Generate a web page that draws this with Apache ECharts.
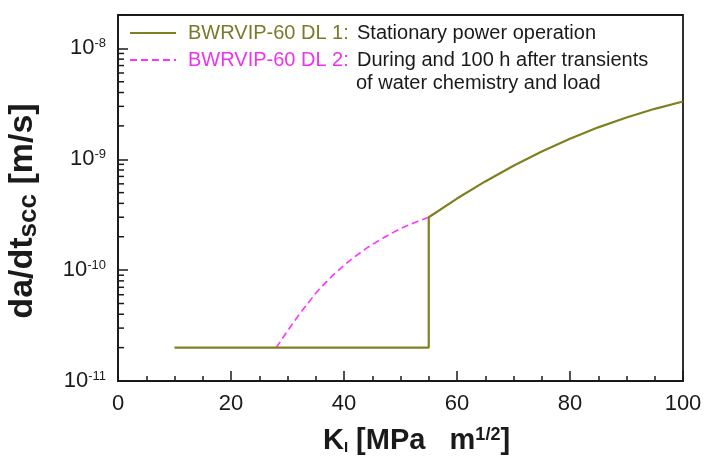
<!DOCTYPE html>
<html>
<head>
<meta charset="utf-8">
<script src="https://cdn.jsdelivr.net/npm/echarts@6.0.0/dist/echarts.min.js"></script>
<style>
  html, body { margin: 0; padding: 0; background: #fff; }
  #chart { width: 705px; height: 457px; }
</style>
</head>
<body>
<div id="chart"></div>
<script>
// 数据：近似值
const dl1Name = 'BWRVIP-60 DL 1';
const dl2Name = 'BWRVIP-60 DL 2';
const dl1Desc = 'Stationary power operation';
const dl2Desc = ['During and 100 h after transients', 'of water chemistry and load'];

// DL 1: 平台段 + 55 处跳变 + 上升曲线
const dl1K = [10, 55, 55, 60, 65, 70, 75, 80, 85, 90, 95, 100];
const dl1Rate = [2e-11, 2e-11, 3.0e-10, 4.42e-10, 6.31e-10, 8.75e-10, 1.175e-9, 1.53e-9, 1.94e-9, 2.38e-9, 2.85e-9, 3.32e-9];

// DL 2: 虚线
const dl2K = [28, 30, 32, 35, 38, 41, 44, 47, 50, 53, 55];
const dl2Rate = [2e-11, 2.83e-11, 3.94e-11, 6.2e-11, 8.97e-11, 1.22e-10, 1.58e-10, 1.96e-10, 2.37e-10, 2.75e-10, 3.0e-10];

// 坐标轴
const xMin = 0, xMax = 100, xStep = 20;
const yMin = 1e-11, yMax = 2e-8;
const yTickExps = [-11, -10, -9, -8];
const yMinorMantissas = [2, 3, 4, 5, 6, 7, 8, 9];

const FONT = '"Liberation Sans", Arial, sans-serif';
const OLIVE = '#808020';
const MAGENTA = '#ff33ff';
const INK = '#1a1a1a';

// 对数轴的次刻度（2..9 × 10^n）
const yMinorTicks = [];
yTickExps.slice(0, -1).forEach(e => {
  yMinorMantissas.forEach(m => yMinorTicks.push(m * Math.pow(10, e)));
});

const chart = echarts.init(document.getElementById('chart'), null, { renderer: 'canvas' });

const option = {
  animation: false,
  backgroundColor: '#fff',
  textStyle: { fontFamily: FONT },
  grid: {
    left: 118, right: 22, top: 15, bottom: 76,
    containLabel: false,
    outerBoundsMode: 'none',
    show: true, borderColor: INK, borderWidth: 1.8, backgroundColor: 'transparent'
  },
  legend: {
    data: [dl1Name, dl2Name],
    orient: 'vertical',
    left: 129, top: 22,
    padding: 0,
    itemWidth: 46, itemHeight: 14, itemGap: 5,
    selectedMode: false,
    itemStyle: { opacity: 0 },
    formatter: name => {
      if (name === dl1Name) return '{a|' + name + ':}{d|' + dl1Desc + '}';
      return '{m|' + name + ':}{d|' + dl2Desc[0] + '}';
    },
    textStyle: {
      fontFamily: FONT,
      fontSize: 20,
      lineHeight: 22,
      padding: [0, 0, 0, 7],
      rich: {
        a: { fontFamily: FONT, fontSize: 20, color: '#7a7a2a', width: 169 },
        m: { fontFamily: FONT, fontSize: 20, color: '#ee33ee', width: 169 },
        d: { fontFamily: FONT, fontSize: 20, color: INK }
      }
    }
  },
  graphic: [{
    type: 'text',
    x: 356, y: 83,
    style: {
      text: dl2Desc[1],
      font: '20px ' + FONT,
      fill: INK,
      verticalAlign: 'middle'
    }
  }],
  xAxis: {
    type: 'value',
    min: xMin, max: xMax, interval: xStep,
    name: '{b|K}{sub|I}{b| [MPa   m}{sup|1/2}{b|]}',
    nameLocation: 'middle',
    nameGap: 45,
    nameTextStyle: {
      padding: [0, 0, 0, 32],
      rich: {
        b: { fontFamily: FONT, fontSize: 29, fontWeight: 'bold', color: INK },
        sub: { fontFamily: FONT, fontSize: 15, fontWeight: 'bold', color: INK, verticalAlign: 'bottom', padding: [14, 0, 0, 0] },
        sup: { fontFamily: FONT, fontSize: 18, fontWeight: 'bold', color: INK, verticalAlign: 'top', padding: [0, 0, 10, 0] }
      }
    },
    axisLine: { lineStyle: { color: INK, width: 1.8 } },
    axisTick: { inside: true, length: 10, lineStyle: { color: INK, width: 1.5 } },
    minorTick: { show: true, splitNumber: 4, length: 5, lineStyle: { color: INK, width: 1.5 } },
    splitLine: { show: false },
    axisLabel: { fontFamily: FONT, fontSize: 22, color: INK, margin: 12 }
  },
  yAxis: {
    type: 'log',
    logBase: 10,
    min: yMin, max: yMax,
    name: '{b|da/dt}{sub|scc}{b| [m/s]}',
    nameLocation: 'middle',
    nameGap: 76,
    nameTextStyle: {
      padding: [0, 26, 0, 0],
      rich: {
        b: { fontFamily: FONT, fontSize: 34, fontWeight: 'bold', color: INK },
        sub: { fontFamily: FONT, fontSize: 26, fontWeight: 'bold', color: INK, verticalAlign: 'bottom', padding: [12, 0, 0, 0] }
      }
    },
    axisLine: { lineStyle: { color: INK, width: 1.8 } },
    axisTick: { inside: true, length: 10, lineStyle: { color: INK, width: 1.5 } },
    splitLine: { show: false },
    axisLabel: {
      margin: 12,
      formatter: v => {
        const e = Math.round(Math.log10(v));
        if (yTickExps.indexOf(e) < 0 || Math.abs(v / Math.pow(10, e) - 1) > 1e-6) return '';
        return '{b|10}{s|' + e + '}';
      },
      rich: {
        b: { fontFamily: FONT, fontSize: 22, color: INK },
        s: { fontFamily: FONT, fontSize: 13, color: INK, verticalAlign: 'top', padding: [0, 0, 8, 0] }
      }
    }
  },
  series: [
    {
      name: dl2Name,
      type: 'line',
      data: dl2K.map((k, i) => [k, dl2Rate[i]]),
      symbol: 'none',
      lineStyle: { color: MAGENTA, width: 1.6, type: [7, 4] },
      itemStyle: { color: MAGENTA },
      z: 3
    },
    {
      name: dl1Name,
      type: 'line',
      data: dl1K.map((k, i) => [k, dl1Rate[i]]),
      symbol: 'none',
      lineStyle: { color: OLIVE, width: 2.2 },
      itemStyle: { color: OLIVE },
      z: 4
    },
    {
      // y 轴对数次刻度
      type: 'custom',
      silent: true,
      data: yMinorTicks.map(v => [xMin, v]),
      renderItem: (params, api) => {
        const p = api.coord([api.value(0), api.value(1)]);
        return {
          type: 'line',
          shape: { x1: p[0], y1: p[1], x2: p[0] + 6, y2: p[1] },
          style: { stroke: INK, lineWidth: 1.5 }
        };
      },
      z: 5
    }
  ]
};

chart.setOption(option);
</script>
</body>
</html>
